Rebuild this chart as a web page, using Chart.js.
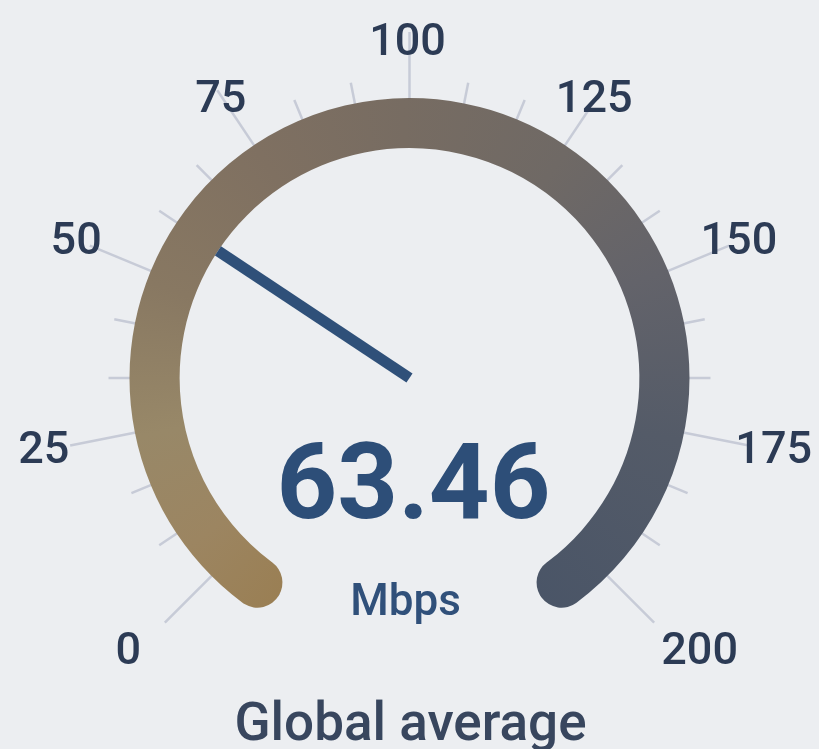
<!DOCTYPE html>
<html>
<head>
<meta charset="utf-8">
<script src="https://cdn.jsdelivr.net/npm/chart.js@4.4.1/dist/chart.umd.min.js"></script>
<style>
    html, body { margin: 0; padding: 0; background: #eceef1; }
    #gauge { display: block; }
</style>
</head>
<body>
<canvas id="gauge" width="819" height="749"></canvas>
<script>
// Dial data
var gaugeMin = 0;
var gaugeMax = 200;
var tickValues = [0, 25, 50, 75, 100, 125, 150, 175, 200];
var minorPerMajor = 3;
var readoutValue = "63.46";
var unitLabel = "Mbps";
var captionLabel = "Global average";
// where the needle sits on the dial in the picture
var needleValue = 58.2;

// Dial geometry (canvas degrees, clockwise from the right)
var tickStartDeg = 135;
var tickSweepDeg = 270;

function valueToAngle(v) {
    var deg = tickStartDeg + (v - gaugeMin) / (gaugeMax - gaugeMin) * tickSweepDeg;
    return deg * Math.PI / 180;
}

//Arc gradient, follows the arc from the 0 end round to the 200 end
function arcGradient(context) {
    var chart = context.chart;
    var area = chart.chartArea;
    if (!area) {
        return '#7a6e62';
    }
    var meta = chart.getDatasetMeta(0);
    var cx = (area.left + area.right) / 2 + (meta.controller.offsetX || 0);
    var cy = (area.top + area.bottom) / 2 + (meta.controller.offsetY || 0);
    var start = (chart.options.rotation - 90) * Math.PI / 180;
    var g = chart.ctx.createConicGradient(start, cx, cy);
    g.addColorStop(0.00, '#9a7f54');
    g.addColorStop(0.06, '#9c8561');
    g.addColorStop(0.13, '#988868');
    g.addColorStop(0.22, '#887862');
    g.addColorStop(0.32, '#7f7061');
    g.addColorStop(0.41, '#776c62');
    g.addColorStop(0.51, '#6f6965');
    g.addColorStop(0.60, '#63636a');
    g.addColorStop(0.70, '#545b68');
    g.addColorStop(0.83, '#4a5567');
    g.addColorStop(1.00, '#4a5567');
    return g;
}

var gaugePlugin = {
    id: 'gaugeDial',
    beforeDatasetsDraw: function (chart) {
        var ctx = chart.ctx;
        var arc = chart.getDatasetMeta(0).data[0];
        var cx = arc.x, cy = arc.y, outer = arc.outerRadius;

        //Ticks, drawn first so the arc sits on top of them
        ctx.save();
        ctx.strokeStyle = '#c7cbd7';
        ctx.lineWidth = 2.5;
        var step = (tickValues[1] - tickValues[0]) / minorPerMajor;
        for (var v = gaugeMin; v <= gaugeMax + 0.001; v += step) {
            var isMajor = tickValues.some(function (t) { return Math.abs(t - v) < 0.01; });
            var a = valueToAngle(v);
            var r1 = outer - 15;
            var r2 = isMajor ? outer + 66 : outer + 21;
            ctx.beginPath();
            ctx.moveTo(cx + Math.cos(a) * r1, cy + Math.sin(a) * r1);
            ctx.lineTo(cx + Math.cos(a) * r2, cy + Math.sin(a) * r2);
            ctx.stroke();
        }
        ctx.restore();
    },
    afterDatasetsDraw: function (chart) {
        var ctx = chart.ctx;
        var arc = chart.getDatasetMeta(0).data[0];
        var cx = arc.x, cy = arc.y, inner = arc.innerRadius;

        //Tick labels, pushed out a little more at the sides and the bottom
        ctx.save();
        ctx.fillStyle = '#2c3b55';
        ctx.font = '500 45px Roboto';
        ctx.textAlign = 'center';
        ctx.textBaseline = 'middle';
        for (var i = 0; i < tickValues.length; i++) {
            var text = String(tickValues[i]);
            var a = valueToAngle(tickValues[i]);
            var c = Math.cos(a), s = Math.sin(a);
            var side = Math.max(0, Math.abs(c) - 0.6) / 0.4;
            var low = Math.max(0, s);
            var r = 336 + 28 * side + 85 * low * low;
            var hw = ctx.measureText(text).width / 2;
            ctx.fillText(text, cx + c * r - 2 + hw * c * low, cy + s * r + 2);
        }
        ctx.restore();

        //Needle
        var na = valueToAngle(needleValue);
        ctx.save();
        ctx.strokeStyle = '#2f5079';
        ctx.lineWidth = 11;
        ctx.lineCap = 'butt';
        ctx.beginPath();
        ctx.moveTo(cx, cy);
        ctx.lineTo(cx + Math.cos(na) * inner, cy + Math.sin(na) * inner);
        ctx.stroke();
        ctx.restore();

        //Readout, unit and caption
        ctx.save();
        ctx.textAlign = 'center';
        ctx.textBaseline = 'alphabetic';
        ctx.fillStyle = '#2d4e78';
        ctx.font = '700 106px Roboto';
        ctx.fillText(readoutValue, cx + 4, 518);
        ctx.fillStyle = '#30507a';
        ctx.font = '500 44px Roboto';
        ctx.fillText(unitLabel, cx - 4, 615);
        ctx.fillStyle = '#38465e';
        ctx.font = '500 53px Roboto';
        ctx.fillText(captionLabel, cx + 1, 740);
        ctx.restore();
    }
};

document.addEventListener('DOMContentLoaded', function () {
    var chart = new Chart(document.getElementById('gauge'), {
        type: 'doughnut',
        data: {
            labels: ['range'],
            datasets: [{
                data: [gaugeMax - gaugeMin],
                backgroundColor: arcGradient,
                borderWidth: 0,
                borderRadius: 25
            }]
        },
        options: {
            responsive: false,
            animation: false,
            rotation: 211,
            circumference: 298,
            radius: 280,
            cutout: '82.1%',
            layout: {
                padding: { top: 0, bottom: 33, left: 0, right: 0 }
            },
            events: [],
            plugins: {
                legend: { display: false },
                tooltip: { enabled: false }
            }
        },
        plugins: [gaugePlugin]
    });
});
</script>
</body>
</html>
